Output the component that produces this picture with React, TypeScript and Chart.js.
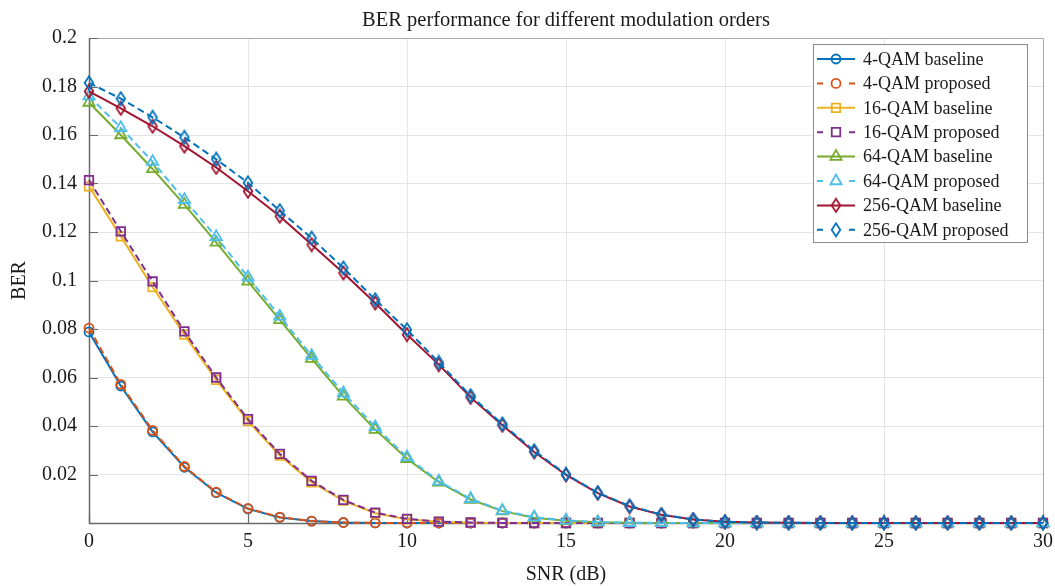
import React, { useEffect, useRef } from 'react';
import { Chart, registerables } from 'chart.js';

Chart.register(...registerables);

// ---------- data ----------
const snr = [0, 1, 2, 3, 4, 5, 6, 7, 8, 9, 10, 11, 12, 13, 14, 15, 16, 17, 18, 19, 20, 21, 22, 23, 24, 25, 26, 27, 28, 29, 30];

const qam4Baseline = [0.0788, 0.0565, 0.0376, 0.0230, 0.0125, 0.0058, 0.0023, 0.0008, 0.0002, 0.00005, 0, 0, 0, 0, 0, 0, 0, 0, 0, 0, 0, 0, 0, 0, 0, 0, 0, 0, 0, 0, 0];
const qam4Proposed = [0.0804, 0.0572, 0.0382, 0.0233, 0.0127, 0.0060, 0.0024, 0.0008, 0.0002, 0.00005, 0, 0, 0, 0, 0, 0, 0, 0, 0, 0, 0, 0, 0, 0, 0, 0, 0, 0, 0, 0, 0];
const qam16Baseline = [0.1388, 0.1182, 0.0973, 0.0777, 0.0590, 0.0420, 0.0278, 0.0168, 0.0092, 0.0040, 0.0015, 0.0005, 0.0001, 0.00003, 0, 0, 0, 0, 0, 0, 0, 0, 0, 0, 0, 0, 0, 0, 0, 0, 0];
const qam16Proposed = [0.1414, 0.1203, 0.0996, 0.0790, 0.0600, 0.0428, 0.0285, 0.0174, 0.0095, 0.0043, 0.0017, 0.0006, 0.0002, 0.00005, 0, 0, 0, 0, 0, 0, 0, 0, 0, 0, 0, 0, 0, 0, 0, 0, 0];
const qam64Baseline = [0.1734, 0.1600, 0.1460, 0.1313, 0.1157, 0.0996, 0.0838, 0.0678, 0.0522, 0.0385, 0.0265, 0.0168, 0.0097, 0.0049, 0.0022, 0.0009, 0.0003, 0.0001, 0.00003, 0, 0, 0, 0, 0, 0, 0, 0, 0, 0, 0, 0];
const qam64Proposed = [0.1760, 0.1630, 0.1490, 0.1333, 0.1180, 0.1014, 0.0852, 0.0690, 0.0536, 0.0396, 0.0272, 0.0172, 0.0100, 0.0051, 0.0024, 0.0011, 0.0004, 0.0001, 0.00003, 0, 0, 0, 0, 0, 0, 0, 0, 0, 0, 0, 0];
const qam256Baseline = [0.1780, 0.1710, 0.1636, 0.1554, 0.1466, 0.1368, 0.1265, 0.1148, 0.1031, 0.0907, 0.0777, 0.0653, 0.0518, 0.0403, 0.0293, 0.0198, 0.0123, 0.0068, 0.0034, 0.0014, 0.0005, 0.0002, 0.0001, 0.00003, 0, 0, 0, 0, 0, 0, 0];
const qam256Proposed = [0.1815, 0.1750, 0.1673, 0.1590, 0.1500, 0.1403, 0.1288, 0.1175, 0.1052, 0.0921, 0.0797, 0.0662, 0.0525, 0.0408, 0.0298, 0.0201, 0.0125, 0.0070, 0.0035, 0.0014, 0.0005, 0.0002, 0.0001, 0.00003, 0, 0, 0, 0, 0, 0, 0];

const seriesLabels = [
  '4-QAM baseline', '4-QAM proposed',
  '16-QAM baseline', '16-QAM proposed',
  '64-QAM baseline', '64-QAM proposed',
  '256-QAM baseline', '256-QAM proposed',
];
const seriesValues = [qam4Baseline, qam4Proposed, qam16Baseline, qam16Proposed, qam64Baseline, qam64Proposed, qam256Baseline, qam256Proposed];

const xTickStep = 5;
const yTickStep = 0.02;
const xMin = 0, xMax = 30, yMin = 0, yMax = 0.2;

const titleText = 'BER performance for different modulation orders';
const xTitle = 'SNR (dB)';
const yTitle = 'BER';

// ---------- styles ----------
const seriesColors = ['#0072BD', '#D95319', '#EDB120', '#7E2F8E', '#77AC30', '#4DBEEE', '#A2142F', '#0072BD'];
const seriesMarkers = ['circle', 'circle', 'rect', 'rect', 'triangle', 'triangle', 'diamond', 'diamond'];
const seriesDashed = [false, true, false, true, false, true, false, true];

const FONT = '"Liberation Serif", "Times New Roman", serif';
const DASH = [7, 4];
const LINE_W = 2;
const MARK_W = 1.8;

function markerRadius(m: string) {
  if (m === 'circle') return 4.5;
  if (m === 'rect') return 6;
  if (m === 'triangle') return 6.5;
  return 6;
}

function makeDiamond(color: string): HTMLCanvasElement {
  const c = document.createElement('canvas');
  c.width = 12;
  c.height = 16;
  const ctx = c.getContext('2d')!;
  ctx.strokeStyle = color;
  ctx.lineWidth = MARK_W;
  ctx.beginPath();
  ctx.moveTo(6, 1.5);
  ctx.lineTo(10.3, 8);
  ctx.lineTo(6, 14.5);
  ctx.lineTo(1.7, 8);
  ctx.closePath();
  ctx.stroke();
  return c;
}

function drawMarker(ctx: CanvasRenderingContext2D, m: string, color: string, x: number, y: number, img?: HTMLCanvasElement) {
  const r = markerRadius(m);
  ctx.save();
  ctx.strokeStyle = color;
  ctx.lineWidth = MARK_W;
  ctx.setLineDash([]);
  ctx.beginPath();
  if (m === 'circle') {
    ctx.arc(x, y, r, 0, Math.PI * 2);
    ctx.stroke();
  } else if (m === 'rect') {
    const s = Math.SQRT1_2 * r;
    ctx.rect(x - s, y - s, 2 * s, 2 * s);
    ctx.stroke();
  } else if (m === 'triangle') {
    for (let k = 0; k < 3; k++) {
      const a = (k * 2 * Math.PI) / 3;
      const px = x + Math.sin(a) * r;
      const py = y - Math.cos(a) * r;
      if (k === 0) ctx.moveTo(px, py); else ctx.lineTo(px, py);
    }
    ctx.closePath();
    ctx.stroke();
  } else if (img) {
    ctx.drawImage(img, x - img.width / 2, y - img.height / 2);
  }
  ctx.restore();
}

export default function App() {
  const ref = useRef<HTMLCanvasElement | null>(null);

  useEffect(() => {
    document.body.style.margin = '0';
    const canvas = ref.current;
    if (!canvas) return;

    const diamonds = seriesColors.map((c) => makeDiamond(c));

    const datasets = seriesValues.map((vals, i) => {
      const m = seriesMarkers[i];
      return {
        label: seriesLabels[i],
        data: snr.map((x, k) => ({ x, y: vals[k] })),
        borderColor: seriesColors[i],
        backgroundColor: 'rgba(0,0,0,0)',
        borderWidth: LINE_W,
        borderDash: seriesDashed[i] ? DASH : [],
        pointStyle: m === 'diamond' ? diamonds[i] : m,
        pointRadius: markerRadius(m),
        pointBorderWidth: MARK_W,
        pointBorderColor: seriesColors[i],
        pointBackgroundColor: 'rgba(0,0,0,0)',
        tension: 0,
        clip: false as any,
        order: -i,
      };
    });

    const framePlugin = {
      id: 'matlabFrame',
      beforeDatasetsDraw(chart: any) {
        const { ctx, chartArea: a, scales } = chart;
        ctx.save();
        ctx.lineWidth = 1;
        // top & right box edges (lighter)
        ctx.strokeStyle = '#a8a8a8';
        ctx.beginPath();
        ctx.moveTo(Math.round(a.left) + 0.5, Math.round(a.top) + 0.5);
        ctx.lineTo(Math.round(a.right) + 0.5, Math.round(a.top) + 0.5);
        ctx.lineTo(Math.round(a.right) + 0.5, Math.round(a.bottom) + 0.5);
        ctx.stroke();
        // left & bottom axes (darker)
        ctx.strokeStyle = '#6a6a6a';
        ctx.lineWidth = 1.5;
        ctx.beginPath();
        ctx.moveTo(Math.round(a.left) + 0.5, Math.round(a.top));
        ctx.lineTo(Math.round(a.left) + 0.5, Math.round(a.bottom) + 0.5);
        ctx.lineTo(Math.round(a.right) + 0.5, Math.round(a.bottom) + 0.5);
        ctx.stroke();
        // inward ticks
        ctx.lineWidth = 1.2;
        ctx.strokeStyle = '#6a6a6a';
        ctx.beginPath();
        for (const t of scales.x.ticks) {
          const px = Math.round(scales.x.getPixelForValue(t.value)) + 0.5;
          ctx.moveTo(px, a.bottom);
          ctx.lineTo(px, a.bottom - 9);
        }
        for (const t of scales.y.ticks) {
          const py = Math.round(scales.y.getPixelForValue(t.value)) + 0.5;
          ctx.moveTo(a.left, py);
          ctx.lineTo(a.left + 9, py);
        }
        ctx.stroke();
        ctx.restore();
      },
      afterDraw(chart: any) {
        const { ctx, chartArea: a } = chart;
        // title centred on the plot area
        ctx.save();
        ctx.font = '20.5px ' + FONT;
        ctx.fillStyle = '#1a1a1a';
        ctx.textAlign = 'center';
        ctx.textBaseline = 'middle';
        ctx.fillText(titleText, (a.left + a.right) / 2, 21);
        ctx.restore();

        // legend box
        const bx = a.right - 230;
        const by = a.top + 6;
        const bw = 214;
        const bh = 198;
        ctx.save();
        ctx.fillStyle = '#ffffff';
        ctx.fillRect(bx, by, bw, bh);
        ctx.strokeStyle = '#8a8a8a';
        ctx.lineWidth = 1;
        ctx.strokeRect(Math.round(bx) + 0.5, Math.round(by) + 0.5, bw, bh);
        ctx.font = '18px ' + FONT;
        ctx.textBaseline = 'middle';
        ctx.textAlign = 'left';
        seriesLabels.forEach((lab, i) => {
          const y = by + 15 + i * 24.4;
          const x0 = bx + 4;
          const x1 = bx + 42;
          const xm = (x0 + x1) / 2;
          ctx.strokeStyle = seriesColors[i];
          ctx.lineWidth = LINE_W;
          ctx.setLineDash([]);
          ctx.beginPath();
          if (seriesDashed[i]) {
            ctx.moveTo(x0, y); ctx.lineTo(x0 + 6, y);
            ctx.moveTo(x1 - 6, y); ctx.lineTo(x1, y);
          } else {
            ctx.moveTo(x0, y); ctx.lineTo(x1, y);
          }
          ctx.stroke();
          drawMarker(ctx, seriesMarkers[i], seriesColors[i], xm, y, diamonds[i]);
          ctx.fillStyle = '#1a1a1a';
          ctx.fillText(lab, bx + 50, y + 1);
        });
        ctx.restore();
      },
    };

    const chart = new Chart(canvas, {
      type: 'line',
      data: { datasets: datasets as any },
      options: {
        responsive: false,
        animation: false,
        layout: { padding: { left: 0, right: 12, top: 38, bottom: 0 } },
        plugins: {
          legend: { display: false },
          tooltip: { enabled: false },
          title: { display: false },
        },
        scales: {
          x: {
            type: 'linear',
            min: xMin,
            max: xMax,
            afterFit: (s: any) => { s.height = 63; s.paddingRight = 0; s.paddingLeft = 0; },
            ticks: {
              stepSize: xTickStep,
              color: '#1a1a1a',
              font: { family: FONT, size: 20 },
              padding: 7,
              maxRotation: 0,
            },
            grid: { color: '#e4e4e4', lineWidth: 1, drawTicks: false },
            border: { display: false },
            title: {
              display: true,
              text: xTitle,
              color: '#1a1a1a',
              font: { family: FONT, size: 20 },
              padding: { top: 0, bottom: -1 },
            },
          },
          y: {
            type: 'linear',
            min: yMin,
            max: yMax,
            afterFit: (s: any) => { s.width = 89; s.paddingTop = 0; s.paddingBottom = 0; },
            ticks: {
              stepSize: yTickStep,
              color: '#1a1a1a',
              font: { family: FONT, size: 20 },
              padding: 12,
              callback: (v: any) => (Number(v) === 0 ? '' : String(+Number(v).toFixed(2))),
            },
            grid: { color: '#e4e4e4', lineWidth: 1, drawTicks: false },
            border: { display: false },
            title: {
              display: true,
              text: yTitle,
              color: '#1a1a1a',
              font: { family: FONT, size: 20 },
              padding: { top: 8, bottom: 0 },
            },
          },
        },
      },
      plugins: [framePlugin],
    });

    return () => chart.destroy();
  }, []);

  return (
    <div style={{ width: 1055, height: 586, background: '#ffffff' }}>
      <canvas ref={ref} width={1055} height={586} style={{ display: 'block' }} />
    </div>
  );
}
